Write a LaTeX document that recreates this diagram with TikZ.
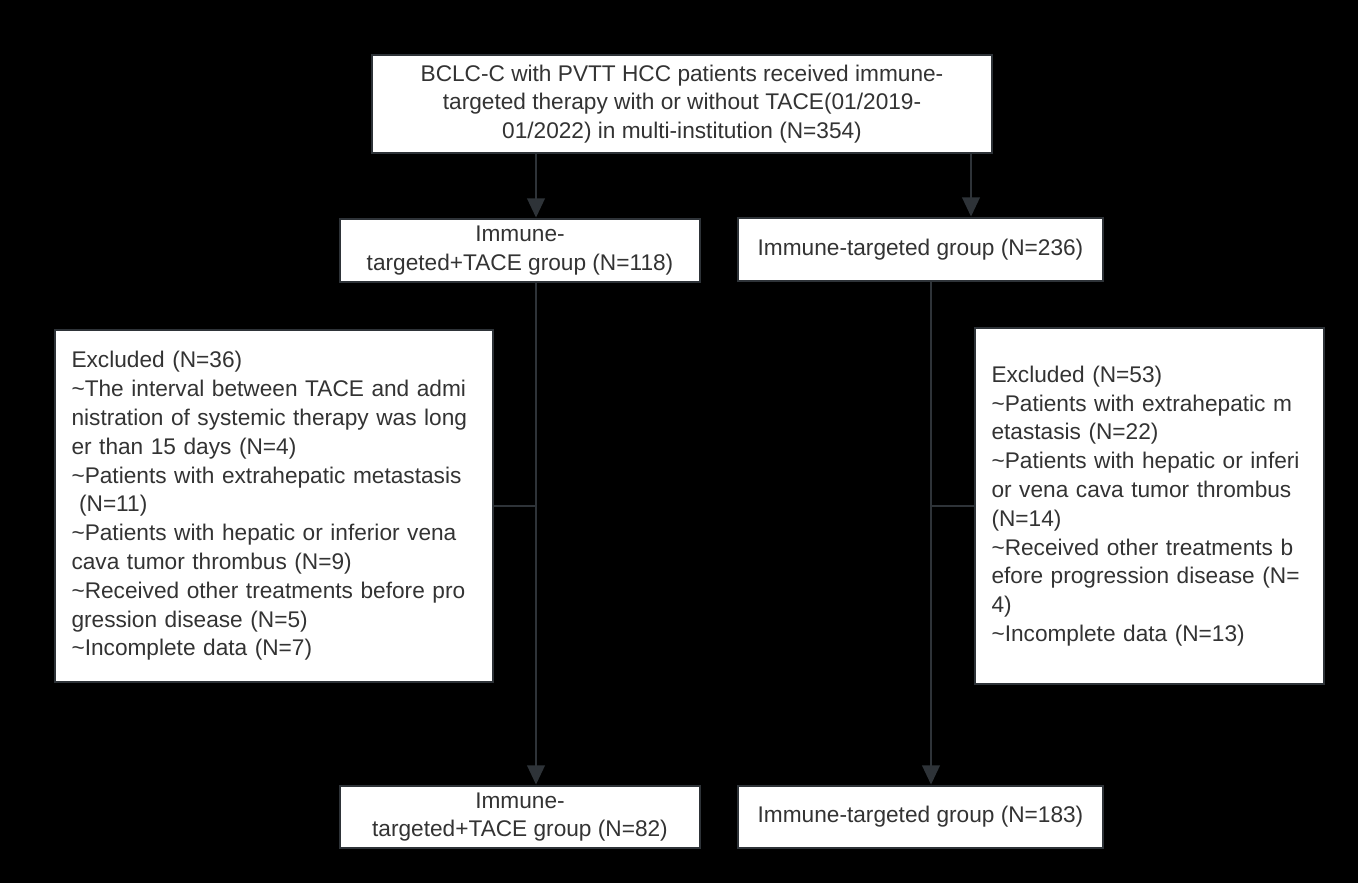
\documentclass[tikz,border=0pt]{standalone}
\usepackage{fontspec}
\setmainfont{Liberation Sans}
\usetikzlibrary{arrows.meta}
\definecolor{edge}{HTML}{2E3338}
\definecolor{ink}{HTML}{333333}
\tikzset{
  box/.style={draw=edge, line width=1.6pt, fill=white, text=ink, inner sep=0pt,
    font=\fontsize{12.9}{16.4}\selectfont},
  link/.style={draw=edge, line width=1.4pt},
  arr/.style={link, -{Triangle[length=11pt,width=10pt]}}
}
\begin{document}
\begin{tikzpicture}[x=0.02cm,y=-0.02cm]
					\fill[black] (0,0) rectangle (1358,883);
					\useasboundingbox (0,0) rectangle (1358,883);
					\node[box, minimum width=12.4cm, minimum height=1.96cm, align=center] (top) at (682,104)
						{BCLC-C with PVTT HCC patients received immune-\\targeted therapy with or without TACE(01/2019-\\01/2022) in multi-institution (N=354)};
					\node[box, minimum width=7.2cm, minimum height=1.26cm, align=center] (ga) at (520,250.5)
						{Immune-\\targeted+TACE group (N=118)};
					\node[box, minimum width=7.3cm, minimum height=1.26cm, align=center] (gb) at (920.5,249.5)
						{Immune-targeted group (N=236)};
					\node[box, minimum width=8.76cm, minimum height=7.04cm, align=left, text width=8.1cm] (xa) at (274,506)
						{Excluded (N=36)\\
						\textasciitilde The interval between TACE and admi\\
						nistration of systemic therapy was long\\
						er than 15 days (N=4)\\
						\textasciitilde Patients with extrahepatic metastasis\\
						\ (N=11)\\
						\textasciitilde Patients with hepatic or inferior vena\\
						cava tumor thrombus (N=9)\\
						\textasciitilde Received other treatments before pro\\
						gression disease (N=5)\\
						\textasciitilde Incomplete data (N=7)};
					\node[box, minimum width=6.98cm, minimum height=7.12cm, align=left, text width=6.32cm] (xb) at (1149.5,506)
						{Excluded (N=53)\\
						\textasciitilde Patients with extrahepatic m\\
						etastasis (N=22)\\
						\textasciitilde Patients with hepatic or inferi\\
						or vena cava tumor thrombus\\
						(N=14)\\
						\textasciitilde Received other treatments b\\
						efore progression disease (N=\\
						4)\\
						\textasciitilde Incomplete data (N=13)};
					\node[box, minimum width=7.2cm, minimum height=1.24cm, align=center] (fa) at (520,817)
						{Immune-\\targeted+TACE group (N=82)};
					\node[box, minimum width=7.3cm, minimum height=1.24cm, align=center] (fb) at (920.5,817)
						{Immune-targeted group (N=183)};
					\coordinate (sa) at (536,0);
					\coordinate (sb) at (971,0);
					\coordinate (ta) at (536,0);
					\coordinate (tb) at (931,0);
					\draw[arr] (top.south -| sa) -- (ga.north -| sa);
					\draw[arr] (top.south -| sb) -- (gb.north -| sb);
					\draw[arr] (ga.south -| ta) -- (fa.north -| ta);
					\draw[arr] (gb.south -| tb) -- (fb.north -| tb);
					\draw[link] (xa.east) -- (xa.east -| ta);
					\draw[link] (xb.west) -- (xb.west -| tb);
				\end{tikzpicture}
\end{document}
